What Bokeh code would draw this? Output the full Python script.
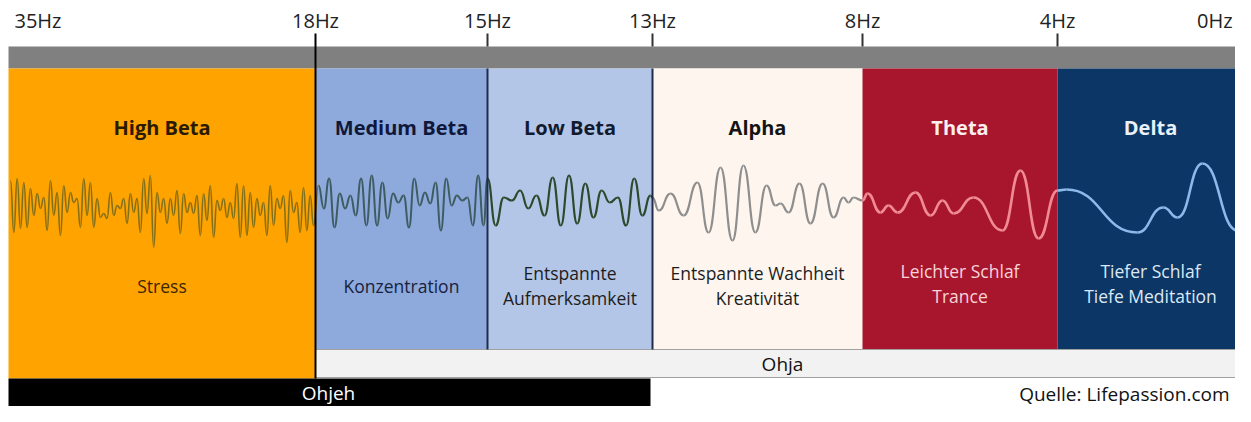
import numpy as np
from bokeh.plotting import figure
from bokeh.models import Range1d, ColumnDataSource
from bokeh.embed import file_html
from bokeh.resources import INLINE
from bokeh.core.properties import value

# ---------------- data ----------------
hz_labels = ["35Hz", "18Hz", "15Hz", "13Hz", "8Hz", "4Hz", "0Hz"]
band_names = ["High Beta", "Medium Beta", "Low Beta", "Alpha", "Theta", "Delta"]
band_desc = [["Stress"], ["Konzentration"], ["Entspannte", "Aufmerksamkeit"],
             ["Entspannte Wachheit", "Kreativität"], ["Leichter Schlaf", "Trance"],
             ["Tiefer Schlaf", "Tiefe Meditation"]]
ohja_label = "Ohja"
ohjeh_label = "Ohjeh"
source_label = "Quelle: Lifepassion.com"

# wave extremes (vertical pixel level), per band
wave_high_beta = [180, 232, 178, 228, 182, 227, 188, 215, 193, 208, 197, 230, 180, 215, 192, 235,
                  185, 212, 192, 202, 198, 227, 178, 215, 182, 227, 198, 217, 213, 218, 192, 215,
                  205, 208, 198, 223, 193, 212, 198, 232, 178, 213, 175, 247, 192, 212, 198, 223,
                  198, 215, 190, 233, 193, 212, 202, 213, 195, 235, 193, 220, 185, 237, 200, 210,
                  198, 217, 202, 218, 183, 237, 185, 235, 192, 227, 198, 215, 202, 235, 185, 225,
                  198, 208, 195, 242, 190, 212, 202, 232, 187, 230, 195, 225]
wave_medium_beta = [185, 208, 178, 227, 193, 208, 195, 215, 178, 225, 175, 225, 182, 218, 193, 202,
                    195, 227, 178, 205, 192, 203, 182, 230, 178, 205, 195, 200, 197, 225, 175, 225]
wave_low_beta = [178, 225, 197, 200, 190, 208, 195, 215, 177, 225, 175, 223, 183, 217, 190, 202,
                 197, 225, 178, 215, 195]
alpha_phase = [0.0, 0.03, 0.086, 0.148, 0.214, 0.267, 0.324, 0.381, 0.433, 0.49, 0.543, 0.586,
               0.61, 0.648, 0.7, 0.752, 0.81, 0.862, 0.91, 0.933, 0.957]
wave_alpha = [197, 210, 193, 215, 182, 232, 167, 240, 165, 232, 185, 205, 203, 212, 183, 223,
              183, 217, 197, 202, 197]
theta_phase = [0.0, 0.026, 0.092, 0.133, 0.18, 0.272, 0.349, 0.41, 0.467, 0.569, 0.718, 0.81,
               0.903, 1.0]
wave_theta = [200, 193, 212, 205, 212, 192, 215, 200, 213, 197, 230, 170, 238, 190]
delta_phase = [0.046, 0.412, 0.546, 0.619, 0.747, 0.928, 1.0]
wave_delta = [189, 232, 207, 217, 163, 230, 222]

# ---------------- layout / style ----------------
W, H = 1235, 406
edges = [8, 315, 487, 652, 862, 1057, 1251]
band_fill = ["#FFA300", "#8EA9DB", "#B4C6E7", "#FDF5EE", "#A7162D", "#0B3666"]
title_color = ["#2a1a00", "#10183a", "#111a2e", "#141414", "#FBEFF0", "#EAF1FA"]
desc_color = ["#3a2600", "#17223d", "#1c1c1c", "#1c1c1c", "#F8D3D8", "#DCE8F5"]
wave_color = ["#85701A", "#3E5C62", "#2C4A2C", "#8E8E8E", "#F08A95", "#8DB8EA"]
wave_width = [1.6, 2.0, 2.2, 2.2, 2.6, 2.6]
FONT = value("Open Sans")
BAND_BOT = 349
OHJA_BOT = 378

p = figure(width=W, height=H, x_range=Range1d(0, W), y_range=Range1d(H, 0),
           output_backend="svg", toolbar_location=None, min_border=0)
p.axis.visible = False
p.grid.visible = False
p.outline_line_color = None
p.background_fill_color = "white"
p.border_fill_color = "white"

# grey top bar
p.quad(left=[edges[0]], right=[edges[-1]], top=[46], bottom=[68], fill_color="#808080", line_color=None)

# bands
lefts = edges[:-1]
rights = edges[1:]
bottoms = [OHJA_BOT] + [BAND_BOT] * 5
p.quad(left=lefts, right=rights, top=[68] * 6, bottom=bottoms, fill_color=band_fill, line_color=None)

# Ohja box and Ohjeh bar
p.quad(left=[315], right=[1251], top=[BAND_BOT], bottom=[OHJA_BOT - 1], fill_color="#F2F2F2",
       line_color="#A0A0A0", line_width=1)
p.quad(left=[8], right=[650], top=[OHJA_BOT], bottom=[H + 5], fill_color="black", line_color=None)

# waves
xs, ys = [], []
def add(xv, yv):
    xs.extend(list(xv)); ys.extend(list(yv))
add(np.linspace(10, 313, len(wave_high_beta)), wave_high_beta)
add(np.linspace(318, 483, len(wave_medium_beta)), wave_medium_beta)
add(np.linspace(487, 650, len(wave_low_beta)), wave_low_beta)
add(edges[3] + np.array(alpha_phase) * (edges[4] - edges[3]), wave_alpha)
add(edges[4] + np.array(theta_phase) * (edges[5] - edges[4]), wave_theta)
add(edges[5] + np.array(delta_phase) * (edges[6] - edges[5]), wave_delta)
xs = np.array(xs, dtype=float); ys = np.array(ys, dtype=float)
x0, x1 = xs[:-1], xs[1:]
y0, y1 = ys[:-1], ys[1:]
dx = (x1 - x0) * 0.5
band_idx = np.clip(np.searchsorted(edges, x0, side="right") - 1, 0, 5)
src = ColumnDataSource(dict(x0=x0, y0=y0, x1=x1, y1=y1, cx0=x0 + dx, cy0=y0, cx1=x1 - dx, cy1=y1,
                            c=[wave_color[i] for i in band_idx], w=[wave_width[i] for i in band_idx]))
p.bezier(x0="x0", y0="y0", x1="x1", y1="y1", cx0="cx0", cy0="cy0", cx1="cx1", cy1="cy1",
         line_color="c", line_width="w", source=src)

# divider lines and ticks
p.segment(x0=[315], y0=[33], x1=[315], y1=[OHJA_BOT], line_color="black", line_width=2)
p.segment(x0=[487, 652], y0=[68, 68], x1=[487, 652], y1=[BAND_BOT, BAND_BOT],
          line_color="#1f2d4d", line_width=2)
p.segment(x0=[487, 652, 862, 1057], y0=[33] * 4, x1=[487, 652, 862, 1057], y1=[46] * 4,
          line_color="#333333", line_width=2)

# Hz labels
p.text(x=[14], y=[20], text=[hz_labels[0]], text_align="left", text_baseline="middle",
       text_font=FONT, text_font_size="20px", text_color="#222222")
p.text(x=edges[1:-1], y=[20] * 5, text=hz_labels[1:-1], text_align="center", text_baseline="middle",
       text_font=FONT, text_font_size="20px", text_color="#222222")
p.text(x=[W - 3], y=[20], text=[hz_labels[-1]], text_align="right", text_baseline="middle",
       text_font=FONT, text_font_size="20px", text_color="#222222")

# band titles & descriptions
centers = [(a + b) / 2 for a, b in zip(lefts, rights)]
centers[5] = 1150
p.text(x=centers, y=[127] * 6, text=band_names, text_align="center", text_baseline="middle",
       text_font=FONT, text_font_size="20px", text_font_style="bold", text_color=title_color)
dx_, dy_, dt_, dc_ = [], [], [], []
for i, lines in enumerate(band_desc):
    ys_ = [285] if len(lines) == 1 else ([272, 297] if i < 4 else [270, 295])
    for yy, t in zip(ys_, lines):
        dx_.append(centers[i]); dy_.append(yy); dt_.append(t); dc_.append(desc_color[i])
p.text(x=dx_, y=dy_, text=dt_, text_align="center", text_baseline="middle",
       text_font=FONT, text_font_size="17.5px", text_color=dc_)

p.text(x=[782], y=[(BAND_BOT + OHJA_BOT) / 2], text=[ohja_label], text_align="center",
       text_baseline="middle", text_font=FONT, text_font_size="19px", text_color="#111111")
p.text(x=[328], y=[(OHJA_BOT + H) / 2], text=[ohjeh_label], text_align="center",
       text_baseline="middle", text_font=FONT, text_font_size="19px", text_color="white")
p.text(x=[W - 6], y=[(OHJA_BOT + H) / 2 + 1], text=[source_label], text_align="right",
       text_baseline="middle", text_font=FONT, text_font_size="19px", text_color="#111111")

open("out.html", "w").write(file_html(p, INLINE))
